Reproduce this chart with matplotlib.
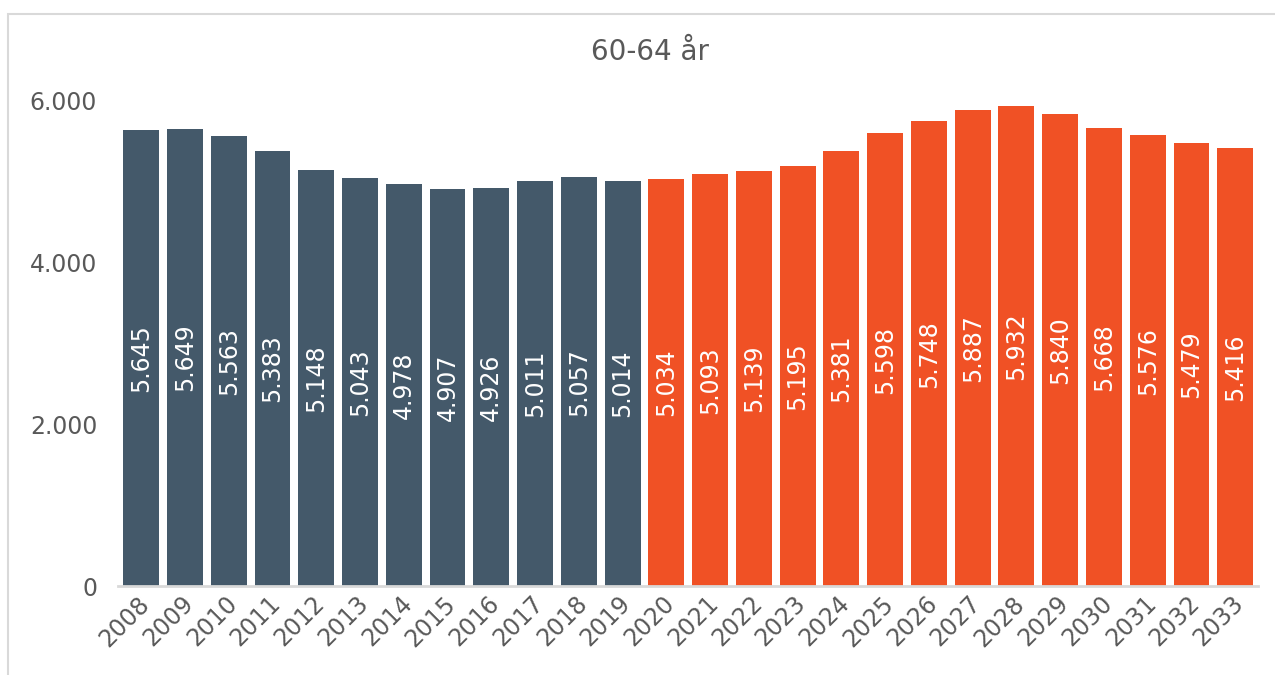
import matplotlib.pyplot as plt
from matplotlib.patches import Rectangle
from matplotlib.ticker import FuncFormatter
import matplotlib.transforms as mtransforms

years = list(range(2008, 2034))
values = [5645, 5649, 5563, 5383, 5148, 5043, 4978, 4907, 4926, 5011, 5057, 5014,
          5034, 5093, 5139, 5195, 5381, 5598, 5748, 5887, 5932, 5840, 5668, 5576, 5479, 5416]
n_history = 12  # 2008-2019 actual, rest forecast

DARK = "#44596A"
ORANGE = "#F05125"
GREY_TEXT = "#595959"

colors = [DARK if i < n_history else ORANGE for i in range(len(years))]

fig = plt.figure(figsize=(12.75, 6.75), dpi=100)
fig.patches.append(Rectangle((8 / 1275, -0.1), 1.2, 1 - 14 / 675 + 0.1,
                             transform=fig.transFigure, fill=False,
                             edgecolor="#D9D9D9", linewidth=1.5))

ax = fig.add_axes([118 / 1275, 1 - 586 / 675, 1140 / 1275, 485 / 675])
x = range(len(years))
bars = ax.bar(x, values, width=0.82, color=colors)

for xi, v in zip(x, values):
    ax.text(xi, v / 2, f"{v:,}".replace(",", "."), rotation=90, ha="center",
            va="center", color="white", fontsize=17)

ax.set_xlim(-0.53, len(years) - 0.48)
ax.set_ylim(0, 6000)
ax.set_yticks([0, 2000, 4000, 6000])
ax.yaxis.set_major_formatter(FuncFormatter(lambda v, p: f"{int(v):,}".replace(",", ".")))
ax.set_xticks(list(x))
ax.set_xticklabels([str(y) for y in years], rotation=45, ha="right",
                   rotation_mode="anchor")
ax.tick_params(axis="both", length=0, colors=GREY_TEXT)
ax.tick_params(axis="y", pad=15, labelsize=17)
ax.tick_params(axis="x", pad=4, labelsize=17)

# nudge the year labels a little to the left, like the original
shift = mtransforms.ScaledTranslation(-4 / 100, 0, fig.dpi_scale_trans)
for lbl in ax.get_xticklabels():
    lbl.set_transform(lbl.get_transform() + shift)

for s in ["top", "right", "left"]:
    ax.spines[s].set_visible(False)
ax.spines["bottom"].set_color("#D9D9D9")
ax.spines["bottom"].set_linewidth(2)

fig.text(650 / 1275, 1 - 52 / 675, "60-64 år", ha="center", va="center",
         fontsize=20, color=GREY_TEXT)

fig.savefig("out.png", dpi=100)
